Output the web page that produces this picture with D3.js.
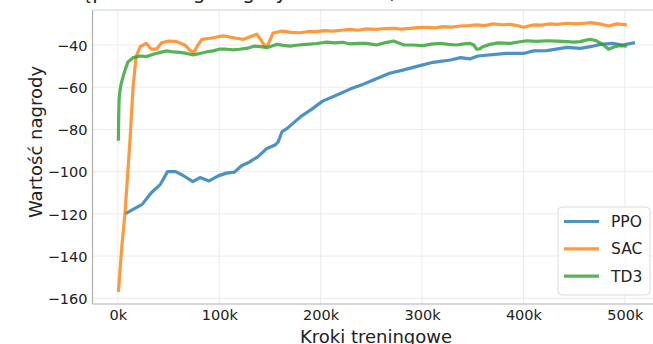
<!DOCTYPE html>
<html>
<head>
<meta charset="utf-8">
<script src="https://cdn.jsdelivr.net/npm/d3@7"></script>
<style>
  body { margin: 0; background: #fff; }
  text { font-family: "DejaVu Sans", sans-serif; fill: #222; }
</style>
</head>
<body>
<div id="chart"></div>
<script>
// values (steps in thousands)
const ppoSteps = [7, 24, 33, 42, 49, 57, 64, 74, 81, 90, 99, 107, 115, 122, 130, 138, 147, 155, 158, 162, 167, 173, 181, 191, 202, 216, 229, 240, 252, 268, 281, 296, 311, 328, 338, 347, 355, 383, 400, 410, 423, 443, 456, 466, 476, 488, 498, 510];
const ppoReward = [-120, -115.5, -110, -106, -100, -100, -101.7, -104.7, -102.8, -104.4, -102, -100.7, -100.2, -97.2, -95.4, -93, -89, -87.4, -86, -81, -79.5, -77, -73.7, -70.5, -66.6, -63.7, -60.9, -59, -56.6, -53.4, -51.9, -50, -48.2, -47.1, -46, -46.6, -45.2, -44, -44, -42.8, -42.7, -41.1, -41.6, -40.8, -39.7, -39.2, -40, -38.9];

const sacSteps = [0.5, 4, 7, 9, 12, 15, 18, 22, 28, 33, 38, 43, 50, 58, 66, 71, 75, 79, 83, 91, 104, 117, 124, 131, 137, 140, 145, 148, 153, 162, 171, 180, 188, 196, 204, 212, 220, 229, 237, 245, 255, 263, 272, 280, 288, 296, 305, 313, 321, 329, 338, 346, 354, 362, 370, 379, 387, 394, 400, 405, 410, 418, 426, 434, 443, 452, 459, 466, 475, 484, 492, 502];
const sacReward = [-157, -135, -120, -106, -85, -60, -45.5, -40.8, -39.2, -42, -42, -39, -38.1, -38.4, -40, -42.4, -43.5, -40, -37.3, -36.8, -35.7, -36.8, -37.3, -36, -34.9, -36.8, -40.5, -40, -34.4, -33.4, -34, -34.2, -33.6, -33.7, -33.2, -33.4, -33, -32.6, -33, -32.4, -32.6, -32.2, -32.1, -32.5, -32.1, -31.8, -31.6, -31.9, -31.3, -31.5, -31, -30.8, -30.5, -30.8, -30, -30.4, -30.2, -30.8, -31.6, -31, -30.5, -30.6, -30, -30.2, -29.7, -30, -29.8, -29.4, -30, -31, -30, -30.5];

const td3Steps = [0.5, 0.8, 1.2, 2, 3, 4, 7, 10, 15, 22, 28, 35, 42, 48, 55, 61, 68, 74.5, 81, 88, 94, 101, 107, 114, 120, 128, 135, 141, 147, 152, 157, 163, 170, 178, 186, 196, 206, 214, 222, 229, 237, 245, 250, 255, 263, 272, 277, 282, 291, 301, 309, 318, 326, 334, 341, 347, 351, 354, 357, 360, 367, 375, 387, 395, 403, 413, 423, 433, 443, 450, 456, 461, 466, 472, 479, 484, 490, 495, 502];
const td3Reward = [-85.4, -75, -66, -62, -59, -57, -52, -48, -46, -45.2, -45.5, -44.4, -43.5, -42.8, -43.3, -43.5, -44, -44.7, -44, -43.2, -42.8, -41.9, -42, -42.3, -42, -41.5, -40.5, -40.8, -41.3, -40.5, -39.7, -40.2, -40.5, -40, -39.7, -39.3, -38.6, -39, -38.7, -39.5, -39.2, -39.2, -39.6, -40, -39, -38.1, -39, -40, -40, -40.3, -39.6, -39.2, -39.7, -40, -39.5, -39.2, -40, -42, -41.8, -40.8, -39.7, -39, -39.2, -38.6, -38, -38.3, -38, -38.2, -38.4, -38.6, -38.4, -37.8, -37.3, -38, -40, -42, -40.8, -40.3, -40.5];

const seriesNames = ["PPO", "SAC", "TD3"];
const xTicks = [0, 100, 200, 300, 400, 500];
const yTicks = [-160, -140, -120, -100, -80, -60, -40];

const series = [
    { name: seriesNames[0], steps: ppoSteps, reward: ppoReward, color: "#1f77b4" },
    { name: seriesNames[1], steps: sacSteps, reward: sacReward, color: "#ff7f0e" },
    { name: seriesNames[2], steps: td3Steps, reward: td3Reward, color: "#2ca02c" }
];

const W = 653, H = 344;
const plot = { left: 92.5, top: 10, right: 660.8, bottom: 304 };

const svg = d3.select("#chart").append("svg")
    .attr("width", W)
    .attr("height", H);

const xScale = d3.scaleLinear().domain([-25, 535.5]).range([plot.left, plot.right]);
const yScale = d3.scaleLinear().domain([-162.7, -23.42]).range([plot.bottom, plot.top]);

// grid
svg.append("g").selectAll("line.gx")
    .data(xTicks).enter().append("line")
    .attr("x1", d => xScale(d)).attr("x2", d => xScale(d))
    .attr("y1", plot.top).attr("y2", plot.bottom)
    .style("stroke", "#ebebeb").style("stroke-width", 1);

svg.append("g").selectAll("line.gy")
    .data(yTicks).enter().append("line")
    .attr("x1", plot.left).attr("x2", plot.right)
    .attr("y1", d => yScale(d)).attr("y2", d => yScale(d))
    .style("stroke", "#ebebeb").style("stroke-width", 1);

// axes (no tick marks, only labels)
const yAxis = svg.append("g")
    .attr("transform", `translate(${plot.left},0)`)
    .call(d3.axisLeft(yScale).tickValues(yTicks).tickSize(0).tickPadding(5)
        .tickFormat(d => d < 0 ? "\u2212" + Math.abs(d) : d));
yAxis.select(".domain").remove();
yAxis.selectAll("text").style("font-size", "14.5px").style("font-family", "DejaVu Sans").attr("dy", "0.36em");

const xAxis = svg.append("g")
    .attr("transform", `translate(0,${plot.bottom})`)
    .call(d3.axisBottom(xScale).tickValues(xTicks).tickSize(0).tickPadding(6)
        .tickFormat(d => d + "k"));
xAxis.select(".domain").remove();
xAxis.selectAll("text").style("font-size", "14.5px").style("font-family", "DejaVu Sans");

// spines
svg.append("line").attr("x1", plot.left).attr("x2", plot.left).attr("y1", plot.top).attr("y2", plot.bottom)
    .style("stroke", "#b0b0b0").style("stroke-width", 1.2);
svg.append("line").attr("x1", plot.left).attr("x2", plot.right).attr("y1", plot.bottom).attr("y2", plot.bottom)
    .style("stroke", "#b0b0b0").style("stroke-width", 1.2);
svg.append("line").attr("x1", plot.left).attr("x2", plot.right).attr("y1", plot.top).attr("y2", plot.top)
    .style("stroke", "#d0d0d0").style("stroke-width", 1);

// lines
const line = d3.line()
    .x(d => xScale(d[0]))
    .y(d => yScale(d[1]));

series.forEach(s => {
    const pts = s.steps.map((st, i) => [st, s.reward[i]]);
    svg.append("path")
        .datum(pts)
        .attr("d", line)
        .style("fill", "none")
        .style("stroke", s.color)
        .style("stroke-opacity", 0.8)
        .style("stroke-width", 3.2)
        .style("stroke-linejoin", "round");
});

// labels
svg.append("text")
    .attr("text-anchor", "middle")
    .attr("transform", `translate(41.5,142)rotate(-90)`)
    .style("font-size", "18px")
    .text("Wartość nagrody");

svg.append("text")
    .attr("x", 376)
    .attr("y", 343)
    .attr("text-anchor", "middle")
    .style("font-size", "18px")
    .text("Kroki treningowe");

// title, almost entirely above the visible area
svg.append("text")
    .attr("x", 38)
    .attr("y", -1)
    .style("font-size", "20px")
    .text("Postęp w treningu algorytmów PPO, SAC i TD3");

// legend
const legend = svg.append("g");
legend.append("rect")
    .attr("x", 558).attr("y", 207)
    .attr("width", 92).attr("height", 88)
    .attr("rx", 4)
    .style("fill", "#fff").style("fill-opacity", 0.8)
    .style("stroke", "#dcdcdc").style("stroke-width", 1);

series.forEach((s, i) => {
    const y = 221.5 + i * 27.3;
    legend.append("line")
        .attr("x1", 564).attr("x2", 599)
        .attr("y1", y).attr("y2", y)
        .style("stroke", s.color).style("stroke-opacity", 0.8)
        .style("stroke-width", 3.2);
    legend.append("text")
        .attr("x", 611).attr("y", y)
        .attr("dy", "0.36em")
        .style("font-size", "15.5px")
        .text(s.name);
});
</script>
</body>
</html>
